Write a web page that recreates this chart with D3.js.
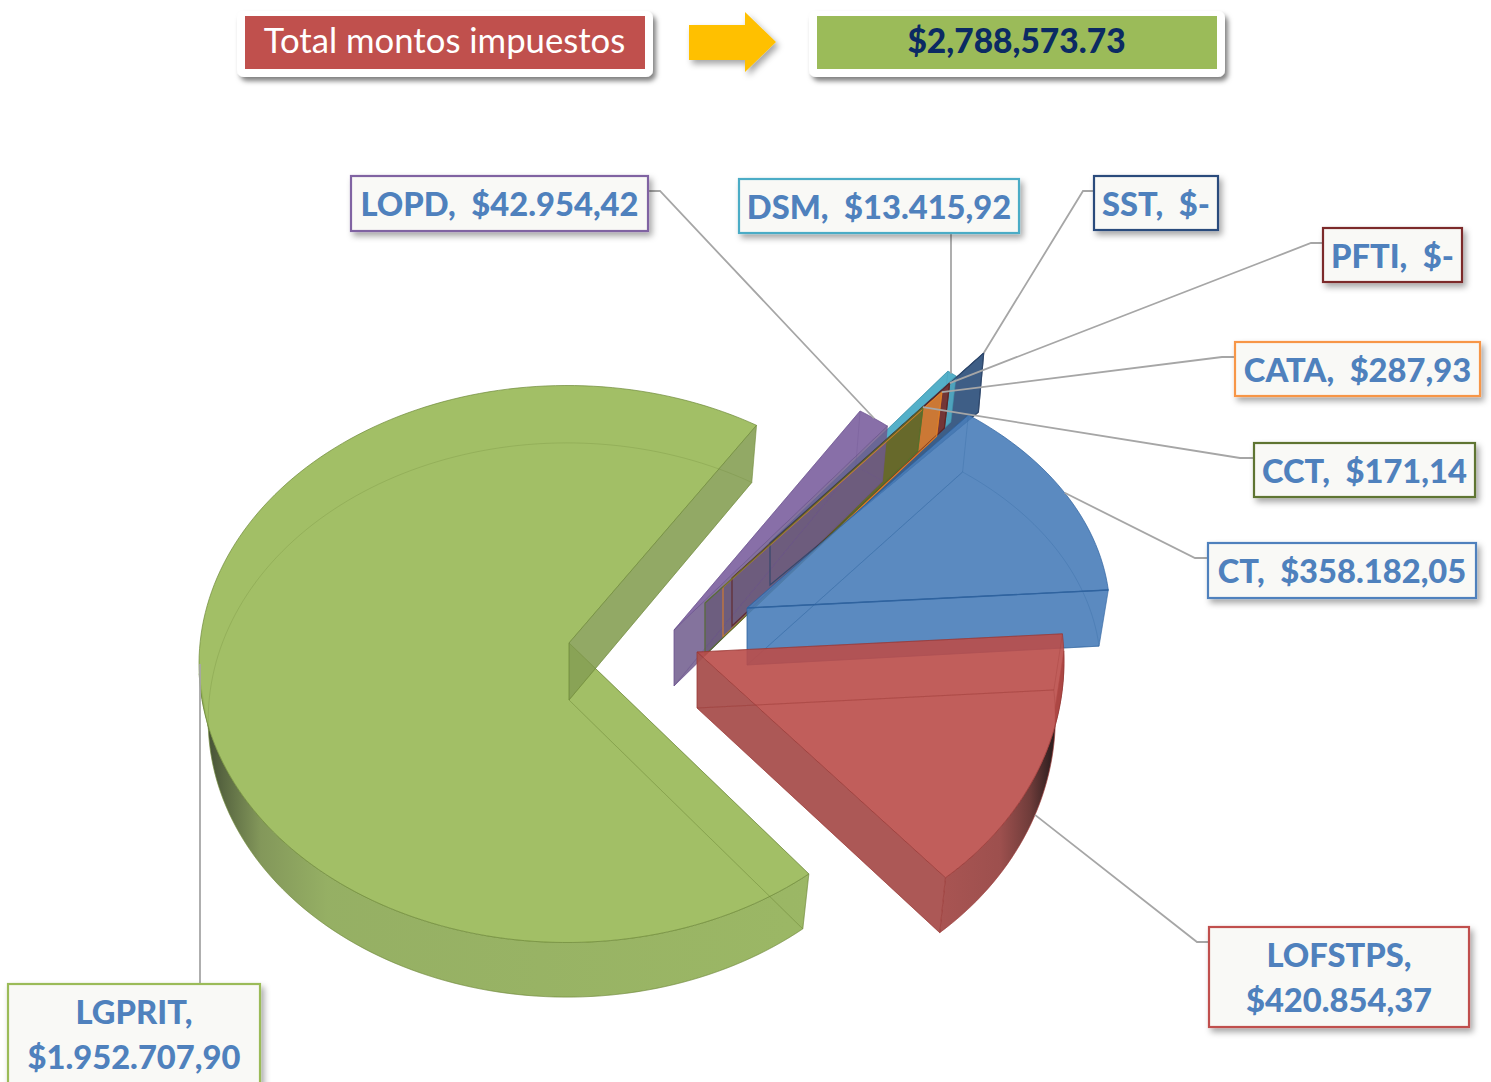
<!DOCTYPE html>
<html>
<head>
<meta charset="utf-8">
<title>Total montos impuestos</title>
<script src="https://cdn.jsdelivr.net/npm/d3@7/dist/d3.min.js"></script>
<style>
  html, body { margin: 0; padding: 0; background: #fff; overflow: hidden; }
  svg { display: block; }
  text { white-space: pre; font-family: Lato, "Open Sans", sans-serif; }
</style>
</head>
<body>
<div id="chart"></div>
<script>
// data, clockwise in pie order
const categories = ['LGPRIT', 'LOPD', 'DSM', 'SST', 'PFTI', 'CATA', 'CCT', 'CT', 'LOFSTPS'];
const amounts = [1952707.90, 42954.42, 13415.92, 0, 0, 287.93, 171.14, 358182.05, 420854.37];
const totalTitle = 'Total montos impuestos';

const width = 1491;
const height = 1082;
const deg = Math.PI / 180;

// every slice is exploded on its own: ellipse centre, radii, apex, thickness
const explode = {
  LGPRIT:  { cx: 567, cy: 664, rx: 368, ry: 278.5, ax: 569, ay: 643, depth: 56, apexDepth: 57 },
  LOPD:    { cx: 685, cy: 651, rx: 340, ry: 280, ax: 674, ay: 630, depth: 54, apexDepth: 56 },
  DSM:     { cx: 745.5, cy: 588, rx: 340, ry: 270, ax: 740, ay: 571, depth: 45, apexDepth: 46 },
  SST:     { cx: 770, cy: 565, rx: 345, ry: 270, ax: 770, ay: 543, depth: 58, apexDepth: 42 },
  PFTI:    { cx: 736, cy: 595, rx: 345, ry: 270, ax: 732, ay: 578, depth: 44, apexDepth: 48 },
  CATA:    { cx: 728, cy: 604, rx: 345, ry: 270, ax: 723, ay: 587, depth: 43, apexDepth: 50 },
  CCT:     { cx: 709, cy: 619, rx: 345, ry: 270, ax: 705, ay: 603, depth: 43, apexDepth: 52 },
  CT:      { cx: 737, cy: 614, rx: 373, ry: 253.7, ax: 747, ay: 608, depth: 56, apexDepth: 57 },
  LOFSTPS: { cx: 718, cy: 661, rx: 346, ry: 287.6, ax: 697, ay: 652, depth: 56, apexDepth: 56 }
};

const sliceStyle = {
  LGPRIT:  { top: '#9bba5a', front: '#86a054', edge: '#6f8a3a', frontAlpha: 0.9 },
  LOPD:    { top: '#8267a3', front: '#6f5a8c', edge: '#6d5490', frontAlpha: 0.85 },
  DSM:     { top: '#4bacc6', front: '#4fa7c0', edge: '#3f94ab', frontAlpha: 0.95 },
  SST:     { top: '#34557f', front: '#34557f', edge: '#2b4468', frontAlpha: 0.95 },
  PFTI:    { top: '#75302f', front: '#75302f', edge: '#5f2423', frontAlpha: 0.95 },
  CATA:    { top: '#d07c35', front: '#d07c35', edge: '#e07f26', frontAlpha: 0.95 },
  CCT:     { top: '#61682b', front: '#61682b', edge: '#56702c', frontAlpha: 0.95 },
  CT:      { top: '#497db9', front: '#497db9', edge: '#2f639f', frontAlpha: 0.9 },
  LOFSTPS: { top: '#ba4c49', front: '#a84f4d', edge: '#9a3835', frontAlpha: 0.95 }
};

// label boxes, in picture pixels. tipDeg / tipRing move the leader end when the slice middle is not right
const labelBoxes = {
  LOPD:    { x: 351, y: 176, w: 297, h: 55, side: 'right', elbow: 660, border: '#8064a2' },
  DSM:     { x: 739, y: 179, w: 280, h: 54, side: 'bottom', elbow: 951, border: '#4bacc6' },
  SST:     { x: 1094, y: 176, w: 124, h: 54, side: 'left', elbow: 1083, border: '#2a4b7c' },
  PFTI:    { x: 1323, y: 228, w: 139, h: 54, side: 'left', elbow: 1311, border: '#7b2c2c' },
  CATA:    { x: 1235, y: 342, w: 245, h: 54, side: 'left', elbow: 1222, border: '#f79646' },
  CCT:     { x: 1254, y: 443, w: 221, h: 54, side: 'left', elbow: 1240, border: '#5f7530' },
  CT:      { x: 1208, y: 543, w: 268, h: 55, side: 'left', elbow: 1195, border: '#4f81bd' },
  LOFSTPS: { x: 1209, y: 927, w: 260, h: 100, side: 'left', elbow: 1197, border: '#c0504d', wrap: true, tipRing: 'bottom', tipDeg: 110 },
  LGPRIT:  { x: 8, y: 984, w: 252, h: 110, side: 'top', elbow: 200, border: '#9bbb59', wrap: true, tipDeg: 270 }
};

const svg = d3.select('#chart').append('svg')
  .attr('width', width)
  .attr('height', height)
  .attr('viewBox', [0, 0, width, height]);

const defs = svg.append('defs');

function shadowFilter(id, blur, opacity) {
  const f = defs.append('filter').attr('id', id)
    .attr('x', '-10%').attr('y', '-20%').attr('width', '125%').attr('height', '150%');
  f.append('feDropShadow')
    .attr('dx', 3).attr('dy', 4).attr('stdDeviation', blur)
    .attr('flood-color', '#000').attr('flood-opacity', opacity);
}
shadowFilter('shadow', 3, 0.35);
shadowFilter('shadow-panel', 2.5, 0.5);

function wallGradient(id, x1, x2, stops) {
  const g = defs.append('linearGradient').attr('id', id)
    .attr('gradientUnits', 'userSpaceOnUse')
    .attr('x1', x1).attr('x2', x2).attr('y1', 0).attr('y2', 0);
  stops.forEach((s) => g.append('stop').attr('offset', s[0]).attr('stop-color', s[1]));
}
wallGradient('wall-LGPRIT', 200, 808, [[0, '#36402a'], [0.04, '#55643c'], [0.1, '#7f9455'], [0.21, '#92ad5f'], [1, '#98b560']]);
wallGradient('wall-LOFSTPS', 940, 1060, [[0, '#a64f4d'], [0.5, '#9a4a48'], [0.75, '#6b3634'], [0.92, '#2d1a1a'], [1, '#221414']]);

// header
function headerPanel(x, w, fill) {
  svg.append('rect').attr('x', x).attr('y', 11).attr('width', w).attr('height', 66)
    .attr('rx', 7).attr('fill', '#fff').attr('filter', 'url(#shadow-panel)');
  svg.append('rect').attr('x', x + 8).attr('y', 16).attr('width', w - 16).attr('height', 53)
    .attr('fill', fill);
}
headerPanel(237, 416, '#c0504d');
headerPanel(809, 416, '#9bbb59');

svg.append('text').attr('x', 444.5).attr('y', 53)
  .attr('text-anchor', 'middle').attr('font-size', 34.7).attr('fill', '#fff')
  .text(totalTitle);
svg.append('text').attr('x', 1016.5).attr('y', 53)
  .attr('text-anchor', 'middle').attr('font-size', 33.5).attr('font-weight', 900).attr('fill', '#0b2a63')
  .text(d3.format('$,.2f')(d3.sum(amounts)));

svg.append('path')
  .attr('d', d3.line()([[689, 25], [745, 25], [745, 12], [776, 42], [745, 72], [745, 60], [689, 60]]) + 'Z')
  .attr('fill', '#ffc000')
  .attr('filter', 'url(#shadow)');

// pie
const pie = d3.pie().value((d) => d.amount).sort(null)
  .startAngle(-221.09 * deg)
  .endAngle(138.91 * deg);

const slices = pie(categories.map((name, i) => ({ name, amount: amounts[i] })));
const byName = {};
slices.forEach((s) => { byName[s.data.name] = s; });

function rim(name, t, ring) {
  const e = explode[name];
  if (ring === 'bottom') {
    return [e.cx + e.rx * 0.975 * Math.sin(t), e.cy + e.depth - e.ry * 0.995 * Math.cos(t)];
  }
  return [e.cx + e.rx * Math.sin(t), e.cy - e.ry * Math.cos(t)];
}
function apex(name, ring) {
  const e = explode[name];
  return ring === 'bottom' ? [e.ax, e.ay + e.apexDepth] : [e.ax, e.ay];
}
function arcPoints(name, t0, t1, ring) {
  const steps = Math.max(1, Math.ceil((t1 - t0) / (deg * 1.5)));
  return d3.range(steps + 1).map((i) => rim(name, t0 + (t1 - t0) * i / steps, ring));
}
const line = d3.line();
const closed = (pts) => line(pts) + 'Z';

// outer wall only where it looks at the camera: 88 deg .. 268 deg (-221 .. -92 for the big slice)
function faces(s) {
  const n = s.data.name;
  const t0 = s.startAngle;
  const t1 = s.endAngle;
  const f = {
    top: closed([apex(n), ...arcPoints(n, t0, t1)]),
    bottom: closed([apex(n, 'bottom'), ...arcPoints(n, t0, t1, 'bottom')]),
    wall0: closed([apex(n), rim(n, t0), rim(n, t0, 'bottom'), apex(n, 'bottom')]),
    wall1: closed([apex(n), rim(n, t1), rim(n, t1, 'bottom'), apex(n, 'bottom')])
  };
  if (n === 'LGPRIT') {
    const to = -92 * deg;
    f.outer = closed([...arcPoints(n, t0, to), ...arcPoints(n, t0, to, 'bottom').reverse()]);
  } else if (t1 > 88 * deg) {
    const from = Math.max(t0, 88 * deg);
    f.outer = closed([...arcPoints(n, from, t1), ...arcPoints(n, from, t1, 'bottom').reverse()]);
  }
  return f;
}

// back to front
const drawOrder = ['SST', 'DSM', 'PFTI', 'CATA', 'CCT', 'LOPD', 'CT', 'LOFSTPS', 'LGPRIT'];
const thinWalls = ['SST', 'PFTI', 'CATA', 'CCT'];

const pieG = svg.append('g');

drawOrder.forEach((name) => {
  const s = byName[name];
  const st = sliceStyle[name];
  const f = faces(s);
  const g = pieG.append('g').attr('class', 'slice');
  const add = (d, fill, opacity, edgeOpacity) => g.append('path')
    .attr('d', d)
    .attr('fill', fill)
    .attr('fill-opacity', opacity)
    .attr('stroke', st.edge)
    .attr('stroke-width', 1)
    .attr('stroke-opacity', edgeOpacity);

  if (f.outer) {
    add(f.outer, `url(#wall-${name})`, 0.97, 0.5);
  }
  add(f.top, st.top, name === 'LGPRIT' ? 0.93 : (name === 'CT' || name === 'LOFSTPS' ? 0.9 : 0.95), 0.7);
  add(f.wall1, st.front, st.frontAlpha, 0.6);
  if (name === 'CT') {
    // front edge of the blue slice reads darker than the rest
    g.append('path').attr('d', line([apex(name), rim(name, s.endAngle)]))
      .attr('fill', 'none').attr('stroke', st.edge).attr('stroke-width', 1.4);
  }
  // far side and floor show through the top
  add(f.bottom, 'none', 1, 0.28);
  add(f.wall0, 'none', 1, 0.28);

  // the zero width walls stay visible as thin lines through the purple one
  if (name === 'LOPD') {
    thinWalls.forEach((w) => {
      g.append('path').attr('d', faces(byName[w]).wall1)
        .attr('fill', 'none')
        .attr('stroke', sliceStyle[w].edge)
        .attr('stroke-width', 1.2)
        .attr('stroke-opacity', 0.85);
    });
  }
});

// labels
const esFormat = d3.formatLocale({ decimal: ',', thousands: '.', grouping: [3], currency: ['$', ''] }).format('$,.2f');
const amountText = (v) => (v === 0 ? '$-' : esFormat(v));

const labelG = svg.append('g');

categories.forEach((name) => {
  const b = labelBoxes[name];
  const s = byName[name];
  const mid = b.tipDeg !== undefined ? b.tipDeg * deg : (s.startAngle + s.endAngle) / 2;
  const tip = rim(name, mid, b.tipRing);
  let leader;
  if (b.side === 'left') {
    leader = [[b.x, b.y + 15], [b.elbow, b.y + 15], tip];
  } else if (b.side === 'right') {
    leader = [[b.x + b.w, b.y + 15], [b.elbow, b.y + 15], tip];
  } else if (b.side === 'bottom') {
    leader = [[b.elbow, b.y + b.h], [b.elbow, tip[1]]];
  } else {
    leader = [[b.elbow, b.y], [b.elbow, tip[1]]];
  }
  labelG.append('path').attr('d', line(leader))
    .attr('fill', 'none').attr('stroke', '#a6a6a6').attr('stroke-width', 1.8);
});

categories.forEach((name, i) => {
  const b = labelBoxes[name];
  labelG.append('rect')
    .attr('x', b.x).attr('y', b.y).attr('width', b.w).attr('height', b.h)
    .attr('fill', '#f9f9f6')
    .attr('stroke', b.border).attr('stroke-width', 2.2)
    .attr('filter', 'url(#shadow)');
  const cx = b.x + b.w / 2;
  const textG = labelG.append('g')
    .attr('text-anchor', 'middle').attr('font-size', 32.7).attr('font-weight', 900).attr('fill', '#4f81bd');
  if (b.wrap) {
    textG.append('text').attr('x', cx).attr('y', b.y + 40).text(`${name},`);
    textG.append('text').attr('x', cx).attr('y', b.y + 85).text(amountText(amounts[i]));
  } else {
    textG.append('text').attr('x', cx).attr('y', b.y + 40).text(`${name},  ${amountText(amounts[i])}`);
  }
});
</script>
</body>
</html>
